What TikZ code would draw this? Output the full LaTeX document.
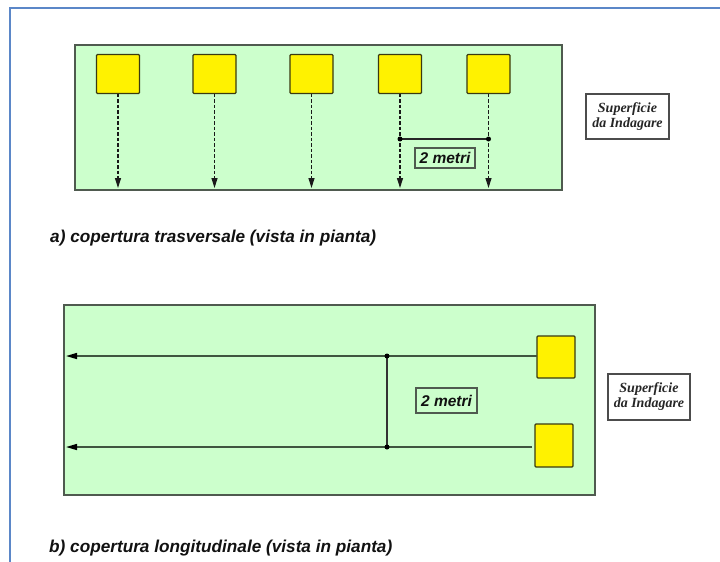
\documentclass[tikz,border=0pt]{standalone}
\usepackage{fontspec}
\setmainfont{Liberation Sans}
\newfontfamily\notefont{Liberation Serif}
\usetikzlibrary{arrows.meta}
\definecolor{framecol}{HTML}{5B87C8}
\definecolor{fieldgreen}{HTML}{CCFFCC}
\definecolor{fieldborder}{HTML}{4F5A4F}
\definecolor{probeborder}{HTML}{3A3A10}
\definecolor{trackcol}{HTML}{3F553F}
\definecolor{textcol}{HTML}{111111}
\begin{document}
\begin{tikzpicture}[x=1pt,y=-1pt,
  field/.style={draw=fieldborder, fill=fieldgreen, line width=1.5pt, inner sep=0pt, outer sep=0pt},
  probe/.style={draw=probeborder, fill=yellow, line width=1.3pt, rounded corners=1pt, inner sep=0pt, outer sep=0pt, minimum width=43pt, minimum height=39pt},
  probeb/.style={probe, minimum width=38pt, minimum height=42pt},
  dashtrack/.style={draw=black!90, line width=1.3pt, dash pattern=on 3.5pt off 2pt, -{Triangle[length=10pt,width=6pt]}},
  solidtrack/.style={draw=trackcol, line width=1.5pt, -{Triangle[length=11pt,width=6pt,color=black]}},
  dimline/.style={draw=black!85, line width=1.4pt},
  dimdot/.style={fill=black, circle, inner sep=0pt, minimum size=5pt},
  metribox/.style={draw=fieldborder, fill=fieldgreen, line width=1.2pt, inner sep=0pt, font=\fontsize{15.5}{17}\selectfont\bfseries\itshape, text=textcol},
  notebox/.style={draw=black!70, fill=white, line width=1.2pt, inner sep=0pt, align=center, font=\notefont\fontsize{14}{15}\selectfont\bfseries\itshape, text=black!85},
  caption/.style={anchor=west, inner sep=0pt, font=\fontsize{17.2}{20}\selectfont\bfseries\itshape, text=textcol}
]
\useasboundingbox (0,0) rectangle (720,562);
\fill[white] (0,0) rectangle (720,562);
% outer frame (only left and top sides visible)
\draw[framecol, line width=1.5pt] (10,563) -- (10,8) -- (721,8);

% ---------- a) copertura trasversale ----------
\node[field, minimum width=487pt, minimum height=145pt] (fieldA) at (318.5,117.5) {};
\foreach \i/\x in {1/118, 2/214.5, 3/311.5, 4/400, 5/488.5} {
  \node[probe] (pa\i) at (\x,74) {};
  \coordinate (ea\i) at (\x,188);
  \draw[dashtrack] (pa\i.south) -- (ea\i);
}
\coordinate (da1) at (400,139);
\coordinate (da2) at (488.5,139);
\draw[dimline] (da1) -- (da2);
\node[dimdot] at (da1) {};
\node[dimdot] at (da2) {};
\node[metribox, minimum width=60pt, minimum height=20pt] (ma) at (445,158) {2 metri};
\node[notebox, minimum width=83pt, minimum height=45pt] (na) at (627.5,116.5) {Superficie\\da Indagare};
\node[caption] (ca) at (50,238) {a) copertura trasversale (vista in pianta)};

% ---------- b) copertura longitudinale ----------
\node[field, minimum width=531pt, minimum height=190pt] (fieldB) at (329.5,400) {};
\node[probeb] (pb1) at (556,357) {};
\node[probeb, minimum height=43pt] (pb2) at (554,445.5) {};
\coordinate (eb1) at (66,356);
\coordinate (eb2) at (66,447);
\coordinate (jb1) at (387,356);
\coordinate (jb2) at (387,447);
\draw[solidtrack] (pb1.west |- jb1) -- (eb1);
\draw[solidtrack] ([xshift=-3pt]pb2.west |- jb2) -- (eb2);
\draw[draw=black!80, line width=1.5pt] (jb1) -- (jb2);
\node[dimdot] at (jb1) {};
\node[dimdot] at (jb2) {};
\node[metribox, minimum width=61pt, minimum height=25pt] (mb) at (446.5,400.5) {2 metri};
\node[notebox, minimum width=82pt, minimum height=46pt] (nb) at (649,397) {Superficie\\da Indagare};
\node[caption] (cb) at (49,548) {b) copertura longitudinale (vista in pianta)};
\end{tikzpicture}
\end{document}
